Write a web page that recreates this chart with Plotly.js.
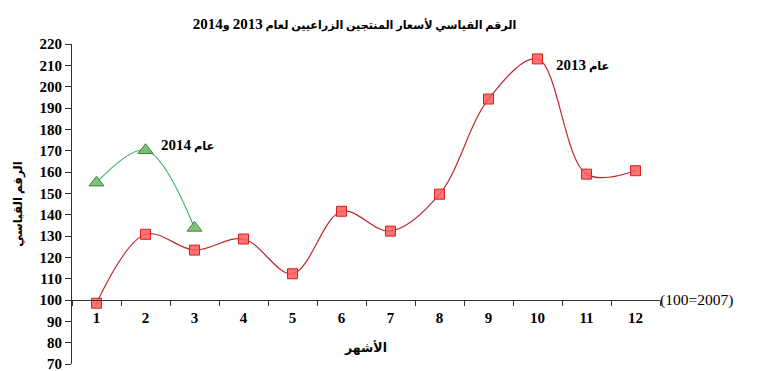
<!DOCTYPE html>
<html>
<head>
<meta charset="utf-8">
<script src="https://cdn.plot.ly/plotly-3.0.1.min.js"></script>
<style>html,body{margin:0;padding:0;background:#fff;}#chart{width:776px;height:371px;}</style>
</head>
<body>
<div id="chart"></div>
<script>
const months = ['1','2','3','4','5','6','7','8','9','10','11','12'];
const values2013 = [98.5, 130.8, 123.4, 128.6, 112.3, 141.6, 132.3, 149.6, 194.2, 213.0, 159.0, 160.6];
const months2014 = ['1','2','3'];
const values2014 = [155.0, 170.2, 133.8];
const yTicks = [70,80,90,100,110,120,130,140,150,160,170,180,190,200,210,220];
const titleText = 'الرقم القياسي لأسعار المنتجين الزراعيين لعام';
const yearLabel = 'عام';

const serif = 'Liberation Serif, "Times New Roman", DejaVu Serif, serif';
const arabic = '"Liberation Serif", "DejaVu Sans", serif';
const num = s => '<span style="font-size:15px">' + s + '</span>';

const traces = [
  {
    x: months, y: values2013, type: 'scatter', mode: 'lines+markers',
    line: {shape: 'spline', smoothing: 1, color: '#C0282A', width: 1.2},
    marker: {symbol: 'square', size: 10, color: 'rgba(255,90,90,0.85)', line: {color: '#D42020', width: 1}},
    hoverinfo: 'x+y', showlegend: false
  },
  {
    x: months2014, y: values2014, type: 'scatter', mode: 'lines+markers',
    line: {shape: 'spline', smoothing: 1, color: '#3DB36B', width: 1.2},
    marker: {symbol: 'triangle-up', size: 13, color: 'rgba(110,190,110,0.9)', line: {color: '#4A7A3A', width: 1}},
    hoverinfo: 'x+y', showlegend: false
  }
];

const layout = {
  width: 776, height: 371,
  margin: {l: 72, r: 116, t: 44, b: 7},
  paper_bgcolor: '#fff', plot_bgcolor: '#fff',
  title: {
    text: titleText + ' ' + num('2013') + ' و' + num('2014'),
    font: {family: arabic, size: 11.2, color: '#000', weight: 'bold'},
    xref: 'container', x: 0.457, xanchor: 'center',
    yref: 'container', y: 0.933, yanchor: 'middle'
  },
  xaxis: {
    type: 'category', categoryorder: 'array', categoryarray: months,
    range: [-0.5, 11.5],
    anchor: 'free', position: 0.2,
    showline: true, linecolor: '#333', linewidth: 1,
    ticks: 'outside', ticklen: 5, tickcolor: '#333', tickson: 'boundaries',
    ticklabelstandoff: 4,
    showgrid: false, zeroline: false,
    tickfont: {family: serif, size: 15, color: '#000', weight: 'bold'},
    title: {text: 'الأشهر', font: {family: arabic, size: 12.5, color: '#000', weight: 'bold'}, standoff: 18}
  },
  yaxis: {
    range: [70, 220], tickvals: yTicks, ticktext: yTicks.map(String),
    showline: true, linecolor: '#333', linewidth: 1,
    ticks: 'outside', ticklen: 6, tickcolor: '#333',
    ticklabeloverflow: 'allow',
    showgrid: false, zeroline: false,
    tickfont: {family: serif, size: 15, color: '#000', weight: 'bold'},
    title: {text: 'الرقم القياسي', font: {family: arabic, size: 11.8, color: '#000', weight: 'bold'}, standoff: 14}
  },
  annotations: [
    {text: yearLabel + ' ' + num('2014'), xref: 'paper', x: 0.197, xanchor: 'center', yref: 'y', y: 172.7, showarrow: false,
     font: {family: arabic, size: 11.5, color: '#000', weight: 'bold'}},
    {text: yearLabel + ' ' + num('2013'), xref: 'paper', x: 0.869, xanchor: 'center', yref: 'y', y: 210.2, showarrow: false,
     font: {family: arabic, size: 11.5, color: '#000', weight: 'bold'}},
    {text: '(100=2007)', xref: 'paper', x: 1, xanchor: 'left', yref: 'y', y: 100, showarrow: false,
     xshift: -2, font: {family: serif, size: 15.5, color: '#000'}}
  ]
};

Plotly.newPlot('chart', traces, layout, {displayModeBar: false, staticPlot: true});
</script>
</body>
</html>
